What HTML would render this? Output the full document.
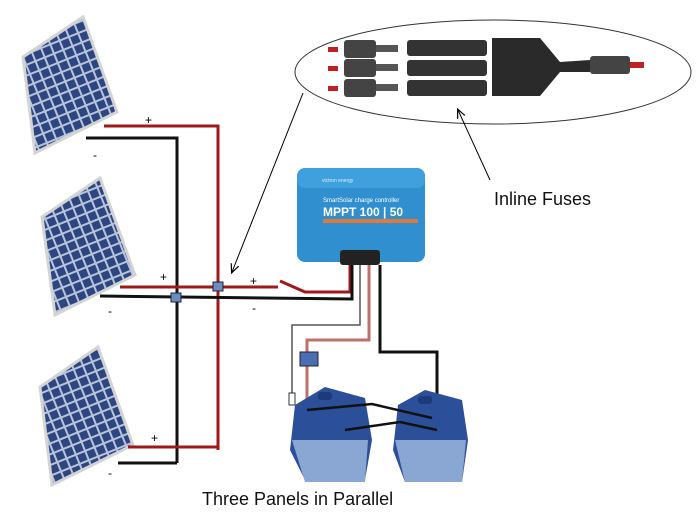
<!DOCTYPE html>
<html><head><style>body{margin:0;background:#fff}svg{display:block}text{font-family:"Liberation Sans",sans-serif}</style></head><body>
<svg width="696" height="518" viewBox="0 0 696 518" xmlns="http://www.w3.org/2000/svg">
<defs>
<pattern id="cells" width="10" height="10" patternUnits="userSpaceOnUse" patternTransform="rotate(-22)">
<rect width="10" height="10" fill="#b8c4dc"/><rect x="1" y="1" width="8" height="8" fill="#2d4680"/>
</pattern>
<marker id="ah" markerWidth="10" markerHeight="10" refX="8" refY="5" orient="auto"><path d="M0,1 L9,5 L0,9" fill="none" stroke="#000" stroke-width="1.2"/></marker>
</defs>
<g stroke="#d4d4d4" stroke-width="3">
<polygon points="23,57 83,17 117,112 35,153" fill="url(#cells)"/>
<polygon points="42,217 100,178 135,275 55,315" fill="url(#cells)"/>
<polygon points="40,387 98,347 133,445 52,485" fill="url(#cells)"/>
</g>
<g fill="none" stroke-width="3">
<polyline points="104,126 218,126 218,450" stroke="#a01818"/>
<polyline points="86,138 177,138 177,463" stroke="#111"/>
<polyline points="120,287 278,287" stroke="#a01818"/>
<polyline points="280,281 305,292 350,292 350,265" stroke="#a01818"/>
<polyline points="100,296 352,299 352,265" stroke="#111"/>
<polyline points="128,447 218,447" stroke="#a01818"/>
<polyline points="118,463 177,463" stroke="#111"/>
<polyline points="369,265 369,340 307,340 307,400" stroke="#c0706a"/>
<polyline points="380,265 380,352 437,352 437,430" stroke="#111"/>
</g>
<polyline points="360,265 360,325 292,325 292,395" fill="none" stroke="#555" stroke-width="1.5"/>
<rect x="289" y="393" width="6" height="12" fill="#fff" stroke="#333"/>
<rect x="300" y="352" width="18" height="14" fill="#4a6fb0" stroke="#223"/>
<rect x="213" y="282" width="10" height="9" fill="#6a8cc0" stroke="#223"/>
<rect x="171" y="293" width="10" height="9" fill="#6a8cc0" stroke="#223"/>
<g>
<path d="M295,405 L325,387 L365,398 L372,440 L365,480 L305,480 L290,450 Z" fill="#2c4f9a"/>
<path d="M292,440 L368,440 L365,482 L305,482 Z" fill="#8aa6d2"/>
<path d="M398,405 L425,390 L462,400 L468,440 L462,482 L405,482 L393,450 Z" fill="#2c4f9a"/>
<path d="M395,440 L466,440 L462,482 L405,482 Z" fill="#8aa6d2"/>
<rect x="318" y="392" width="14" height="8" rx="3" fill="#1e3a7a"/>
<rect x="418" y="396" width="14" height="8" rx="3" fill="#1e3a7a"/>
</g>
<polyline points="307,410 372,404 432,418" fill="none" stroke="#111" stroke-width="2.5"/>
<polyline points="345,430 400,422 437,430" fill="none" stroke="#111" stroke-width="2.5"/>
<rect x="297" y="168" width="128" height="94" rx="8" fill="#2f8fcf"/>
<rect x="297" y="168" width="128" height="20" rx="8" fill="#3ea0dc"/>
<text x="322" y="182" font-size="5" fill="#dfeefa">victron energy</text>
<text x="323" y="202" font-size="6" fill="#fff">SmartSolar charge controller</text>
<text x="323" y="216" font-size="12" font-weight="bold" fill="#fff">MPPT 100 | 50</text>
<rect x="323" y="219" width="95" height="4" fill="#e07a3a"/>
<rect x="340" y="250" width="40" height="15" rx="3" fill="#222"/>
<ellipse cx="493" cy="72" rx="198" ry="52" fill="none" stroke="#333" stroke-width="1"/>
<g>
<rect x="328" y="47" width="10" height="5" fill="#c02020"/><rect x="344" y="40" width="32" height="18" rx="3" fill="#444"/>
<rect x="328" y="66" width="10" height="5" fill="#c02020"/><rect x="344" y="59" width="32" height="18" rx="3" fill="#444"/>
<rect x="328" y="86" width="10" height="5" fill="#c02020"/><rect x="344" y="79" width="32" height="18" rx="3" fill="#444"/>
<rect x="376" y="45" width="22" height="7" fill="#555"/><rect x="376" y="64" width="22" height="7" fill="#555"/><rect x="376" y="84" width="22" height="7" fill="#555"/>
<rect x="407" y="40" width="80" height="16" rx="3" fill="#333"/>
<rect x="407" y="60" width="80" height="16" rx="3" fill="#333"/>
<rect x="407" y="80" width="80" height="16" rx="3" fill="#333"/>
<path d="M492,38 L540,38 L560,62 L590,60 L590,72 L560,72 L540,96 L492,96 Z" fill="#2a2a2a"/>
<rect x="590" y="56" width="40" height="18" rx="3" fill="#444"/>
<rect x="630" y="62" width="14" height="6" fill="#c02020"/>
</g>
<line x1="303" y1="93" x2="232" y2="272" stroke="#000" stroke-width="1" marker-end="url(#ah)"/>
<line x1="490" y1="180" x2="458" y2="110" stroke="#000" stroke-width="1" marker-end="url(#ah)"/>
<g font-size="12" fill="#000">
<text x="145" y="124">+</text><text x="93" y="159">-</text>
<text x="160" y="281">+</text><text x="108" y="315">-</text>
<text x="250" y="285">+</text><text x="252" y="312">-</text>
<text x="151" y="442">+</text><text x="108" y="477">-</text>
</g>
<text x="494" y="205" font-size="18" fill="#111">Inline Fuses</text>
<text x="202" y="505" font-size="18" fill="#111">Three Panels in Parallel</text>
</svg>
</body></html>
